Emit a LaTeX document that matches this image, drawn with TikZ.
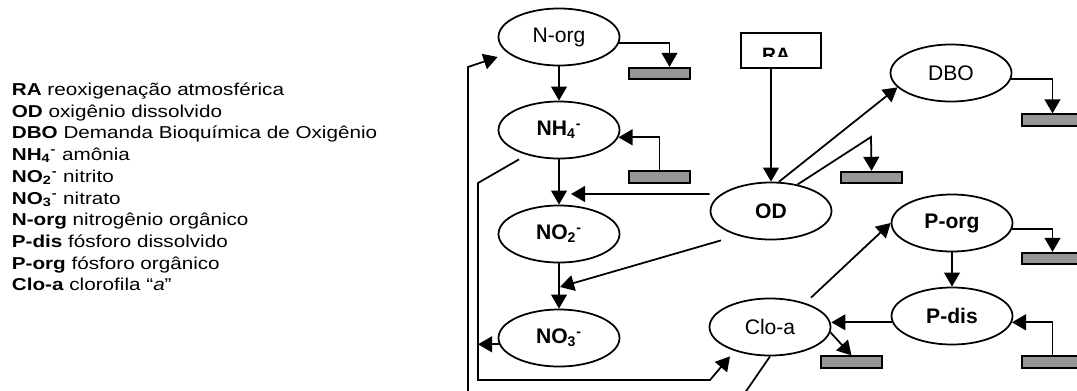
\documentclass[tikz,border=0pt]{standalone}
\usepackage{fontspec}
\setmainfont{Liberation Sans}
\newfontfamily\legendfont{Liberation Sans}[FakeStretch=1.2]
\usetikzlibrary{arrows.meta,shapes.geometric}
\definecolor{sinkgray}{RGB}{150,150,150}

\begin{document}
\begin{tikzpicture}[>={Triangle[length=8pt,width=9pt]},x=0.2mm,y=-0.2mm,line width=1pt,
    comp/.style={draw,ellipse,minimum width=2.42cm,minimum height=1.14cm,inner sep=0pt,font=\fontsize{12}{14}\selectfont},
    sink/.style={draw,fill=sinkgray,minimum width=1.22cm,minimum height=0.23cm,inner sep=0pt},
    legend/.style={anchor=base west,inner sep=0pt,font=\legendfont\fontsize{9.8}{12}\selectfont}]
                \useasboundingbox (0,0) rectangle (1077,390);
                \clip (0,0) rectangle (1077,390);

                % legenda
                \node[legend] (lra) at (11,95) {\textbf{RA} reoxigenação atmosférica};
                \node[legend] (lod) at (11,117) {\textbf{OD} oxigênio dissolvido};
                \node[legend] (ldbo) at (11,138) {\textbf{DBO} Demanda Bioquímica de Oxigênio};
                \node[legend] (lnh) at (11,160) {\textbf{NH\textsubscript{4}\textsuperscript{-}} amônia};
                \node[legend] (lnotwo) at (11,182) {\textbf{NO\textsubscript{2}\textsuperscript{-}} nitrito};
                \node[legend] (lnothree) at (11,204) {\textbf{NO\textsubscript{3}\textsuperscript{-}} nitrato};
                \node[legend] (lnorg) at (11,225) {\textbf{N-org} nitrogênio orgânico};
                \node[legend] (lpdis) at (11,247) {\textbf{P-dis} fósforo dissolvido};
                \node[legend] (lporg) at (11,269) {\textbf{P-org} fósforo orgânico};
                \node[legend] (lcloa) at (11,290) {\textbf{Clo-a} clorofila “\textit{a}”};

                % compartimentos
                \node[comp] (norg) at (559,37) {N-org};
                \node[comp] (nh4) at (559,130) {\textbf{NH\textsubscript{4}\textsuperscript{-}}};
                \node[comp] (no2) at (559,234) {\textbf{NO\textsubscript{2}\textsuperscript{-}}};
                \node[comp] (no3) at (559,338) {\textbf{NO\textsubscript{3}\textsuperscript{-}}};
                \node[comp] (od) at (771,211) {\textbf{OD}};
                \node[comp] (cloa) at (770,327) {Clo-a};
                \node[comp] (dbo) at (951,73) {DBO};
                \node[comp] (porg) at (952,223) {\textbf{P-org}};
                \node[comp] (pdis) at (952,316) {\textbf{P-dis}};

                \node[draw,minimum width=1.6cm,minimum height=0.7cm,inner sep=0pt] (ra) at (781,50.5) {};
                \begin{scope}
                \clip (ra.north west) rectangle ([yshift=-0.48cm]ra.north east);
                \node[inner sep=0pt,font=\fontsize{11}{13}\selectfont\bfseries] (ratext) at (776,55) {RA};
                \end{scope}

                % sedimento
                \node[sink] (snorg) at (659.5,73.5) {};
                \node[sink] (snh) at (659.5,177) {};
                \node[sink] (sod) at (871.5,177.5) {};
                \node[sink] (sdbo) at (1052.5,120) {};
                \node[sink] (sporg) at (1052.5,258.5) {};
                \node[sink] (spdis) at (1052.5,362) {};
                \node[sink] (scloa) at (851.5,362) {};

                \coordinate (k1) at (478,183);
                \coordinate (k2) at (478,380);
                \coordinate (k3) at (710,380);
                \coordinate (k4) at (871,137);
                \coordinate (k5) at (740,400);
                \coordinate (k6) at (468,400);
                \coordinate (k7) at (468,67);
                \coordinate (n2in) at (571,194);
                \coordinate (n3in) at (560,287);

                % nitrogenio
                \draw[->] (norg) -- (nh4);
                \draw[->] (nh4) -- (no2);
                \draw[->] (no2) -- (no3);
                \draw[->] (norg.-6) -| ([xshift=0.2cm]snorg.north);
                \draw[->] (snh.north) |- (nh4.-7);
                \draw[->] ([xshift=-0.8cm]nh4.south) -- (k1) -- (k2) -- (k3) -- ([xshift=-0.8cm]cloa.south);
                \draw[->] (no3.186) -- (k1 |- no3.186);
                \draw[->] (cloa.south) -- (k5) -- (k6) -- (k7) -- ([yshift=-0.4cm]norg.west);

                % oxigenio
                \draw[->] (od.north |- ra.south) -- (od);
                \draw[->] ([yshift=0.34cm]od.west) -- (n2in);
                \draw[->] ([xshift=-1cm]od.south) -- (n3in);
                \draw[->] (od.75) -- (dbo.195);
                \draw[->] (od.45) -- (k4) -- (sod.north);
                \draw[->] (dbo.-6) -| (sdbo.north);

                % fosforo
                \draw[->] (porg.-6) -| (sporg.north);
                \draw[->] (porg) -- (pdis);
                \draw[->] (spdis.north) |- (pdis.-6);
                \draw[->] (pdis.186) -- (pdis.186 -| cloa.east);
                \draw[->] (cloa.-5) -- (scloa.north);
                \draw[->] ([xshift=0.82cm]cloa.north) -- (porg.west);
            \end{tikzpicture}
\end{document}
